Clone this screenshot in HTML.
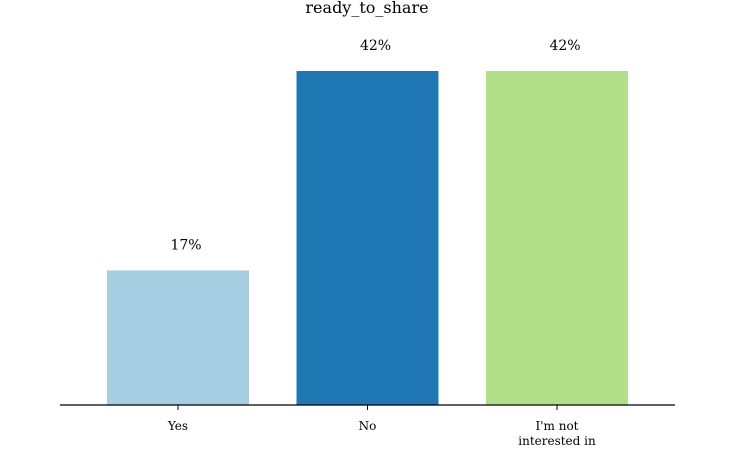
<!DOCTYPE html>
<html><head><meta charset="utf-8"><style>
body{margin:0;background:#fff;}
svg text{font-family:"DejaVu Serif","Liberation Serif",serif;fill:#000;}
</style></head><body>
<svg width="750" height="450">
<text x="367" y="13" text-anchor="middle" font-size="16">ready_to_share</text>
<g id="bars"></g>
<line x1="60" y1="405" x2="675" y2="405" stroke="#000" stroke-width="1.3"/>
</svg>
<script>
const categories=["Yes","No","I'm not\ninterested in"];
const values=[16.8,41.7,41.7];
const labels=["17%","42%","42%"];
const colors=["#a6cee3","#1f78b4","#b2df8a"];
const x0=178,step=189.5,bw=142,base=405,scale=334/41.7;
const g=document.getElementById('bars');
const ns='http://www.w3.org/2000/svg';
function xs(i){return x0+i*step;}
function ys(v){return base-v*scale;}
categories.forEach((c,i)=>{
  const r=document.createElementNS(ns,'rect');
  
  
  r.setAttribute('x',xs(i)-bw/2);r.setAttribute('y',ys(values[i]));
  r.setAttribute('width',bw);r.setAttribute('height',base-ys(values[i]));
  r.setAttribute('fill',colors[i]);g.appendChild(r);
  const t=document.createElementNS(ns,'text');
  
  
  t.setAttribute('x',xs(i)+8);t.setAttribute('y',ys(values[i])-21);
  t.setAttribute('text-anchor','middle');t.setAttribute('font-size','14');
  t.textContent=labels[i];g.appendChild(t);
  const tk=document.createElementNS(ns,'line');
  
  
  tk.setAttribute('x1',xs(i));tk.setAttribute('x2',xs(i));
  tk.setAttribute('y1',base);tk.setAttribute('y2',base+5);
  tk.setAttribute('stroke','#000');g.appendChild(tk);
  c.split('\n').forEach((ln,j)=>{
    const l=document.createElementNS(ns,'text');
    
    
    l.setAttribute('x',xs(i));l.setAttribute('y',430+j*15);
    l.setAttribute('text-anchor','middle');l.setAttribute('font-size','12');
    l.textContent=ln;g.appendChild(l);
  });
});
</script>
</body></html>
